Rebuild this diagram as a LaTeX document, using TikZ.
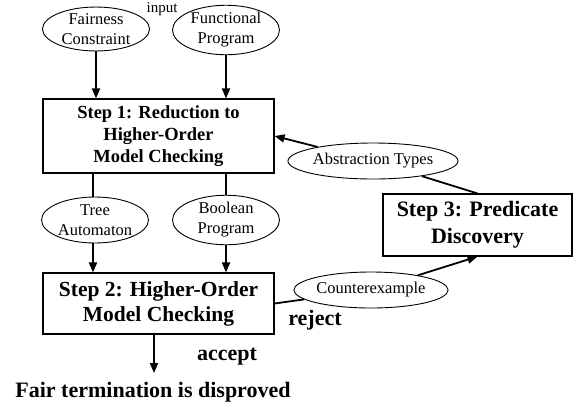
\documentclass[tikz,border=0pt]{standalone}
\usepackage{fontspec}
\setmainfont{Liberation Serif}
\usetikzlibrary{shapes.geometric,arrows.meta}
\begin{document}
\begin{tikzpicture}[x=1pt,y=-1pt,
  ell/.style={draw,ellipse,line width=0.9pt,inner sep=0pt,align=center,
    font=\fontsize{16.5}{20}\selectfont},
  stepbox/.style={draw,rectangle,line width=1.1pt,inner sep=0pt,align=center},
  arr/.style={line width=1.8pt,-{Triangle[length=10pt,width=8pt]}},
  ln/.style={line width=1.8pt},
  lbl/.style={font=\fontsize{22}{26}\selectfont\bfseries,inner sep=0pt}]
\useasboundingbox (0,0) rectangle (577,408);
% ellipses
\node[ell,minimum width=107pt,minimum height=42pt] (fc) at (96,29) {Fairness\\Constraint};
\node[ell,minimum width=107pt,minimum height=41pt] (fp) at (226,30) {Functional\\Program};
\node[ell,minimum width=107pt,minimum height=46pt] (ta) at (95,220) {Tree\\Automaton};
\node[ell,minimum width=107pt,minimum height=46pt] (bp) at (226,220) {Boolean\\Program};
\node[ell,minimum width=152pt,minimum height=36pt] (abs) at (373,161) {Abstraction Types};
\node[ell,minimum width=153pt,minimum height=36pt] (cex) at (371,290) {Counterexample};
% boxes
\node[stepbox,minimum width=231pt,minimum height=74pt,
  font=\fontsize{18.5}{22}\selectfont\bfseries] (s1) at (158.5,136)
  {Step 1: Reduction to\\Higher-Order\\Model Checking};
\node[stepbox,minimum width=231pt,minimum height=61pt,
  font=\fontsize{21.5}{25}\selectfont\bfseries] (s2) at (158.5,303.5)
  {Step 2: Higher-Order\\Model Checking};
\node[stepbox,minimum width=189pt,minimum height=62pt,
  font=\fontsize{22}{27}\selectfont\bfseries] (s3) at (477.5,225)
  {Step 3: Predicate\\Discovery};
% labels
\node[anchor=base,inner sep=0pt,font=\fontsize{15}{18}\selectfont] (inp) at (162,12.5) {input};
\node[lbl,anchor=base] (acc) at (227,360) {accept};
\node[lbl,anchor=base] (rej) at (315,325) {reject};
\node[lbl,anchor=base] (fair) at (153,397) {Fair termination is disproved};
\coordinate (accend) at (154,373);
% connectors
\draw[arr] (fc) -- (fc |- s1.north);
\draw[arr] (fp) -- (fp |- s1.north);
\draw[ln] (s1.south -| 93,0) -- (93,0 |- ta.north);
\draw[ln] (s1.south -| bp) -- (bp.north);
\draw[arr] (ta.south -| 93,0) -- (93,0 |- s2.north);
\draw[arr] (bp) -- (bp |- s2.north);
\draw[arr] (s2.south -| accend) -- (accend);
\draw[ln] (s2.east) -- (cex);
\draw[arr] (cex) -- (s3.south);
\draw[ln] (s3.north) -- (abs);
\draw[arr] (abs) -- (s1.east);
\end{tikzpicture}
\end{document}
